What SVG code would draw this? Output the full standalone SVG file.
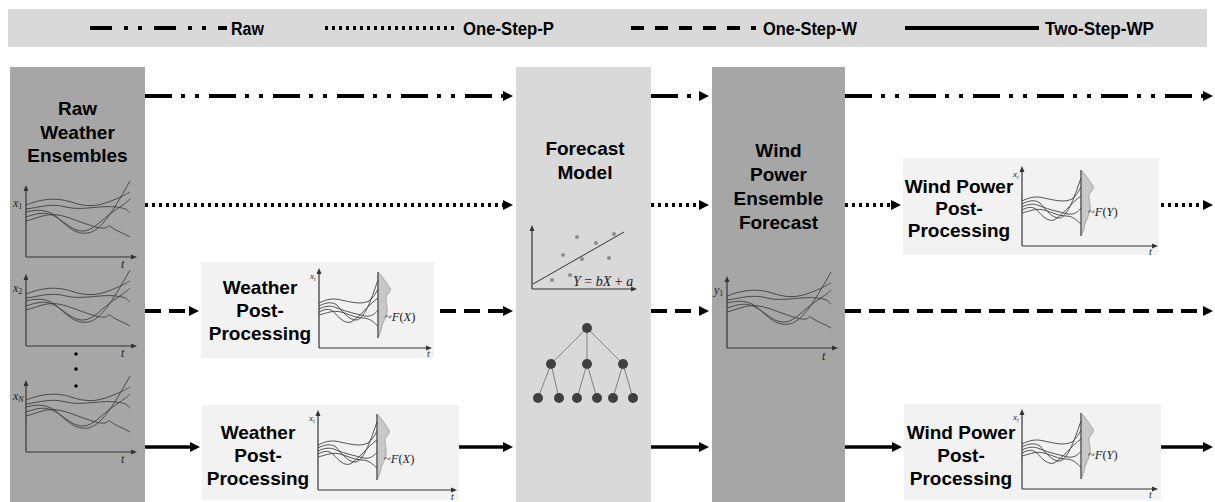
<svg xmlns="http://www.w3.org/2000/svg" width="1215" height="502" viewBox="0 0 1215 502">
<style>
.ttl{font-family:"Liberation Sans",Arial,sans-serif;font-weight:bold;font-size:19px;fill:#000;text-anchor:middle}
.lg{font-family:"Liberation Sans",Arial,sans-serif;font-weight:bold;font-size:18px;fill:#000}
.math{font-family:"Liberation Serif","DejaVu Serif",serif;font-style:italic;fill:#222}
.up{font-style:normal}
.ax{stroke:#333;stroke-width:1.2;fill:none}
.cv{stroke:#404040;stroke-width:0.9;fill:none}
.ln{stroke:#000;stroke-width:4;fill:none}
.raw{stroke-dasharray:27 9 4 10 4 10}
.lraw{stroke-dasharray:22 12 4 10 4 12}
.dot{stroke-dasharray:3 4}
.dsh{stroke-dasharray:16 8}
.ldsh{stroke-dasharray:13 11}
.sol{stroke-width:3.5}
.dark{fill:#a6a6a6}
.mid{fill:#d9d9d9}
.light{fill:#f2f2f2}
.dist{fill:#c8c8c8;stroke:#9a9a9a;stroke-width:0.8}
.vl{stroke:#666;stroke-width:1.5}
.tn{fill:#404040}
.te{stroke:#808080;stroke-width:1}
.rd{fill:#8c8c8c}
</style>
<defs>
<marker id="ah" markerUnits="userSpaceOnUse" markerWidth="10" markerHeight="10" refX="0" refY="5" orient="auto"><path d="M0,0 L10,5 L0,10 Z" fill="#000"/></marker>
<marker id="sa" markerUnits="userSpaceOnUse" markerWidth="6" markerHeight="6" refX="0" refY="3" orient="auto"><path d="M0,0.5 L6,3 L0,5.5 Z" fill="#333"/></marker>
<g id="ens">
<path class="ax" d="M0,72 V6" marker-end="url(#sa)"/>
<path class="ax" d="M0,72 H105" marker-end="url(#sa)"/>
<path class="cv" d="M0,20 C15,14 30,12 45,17 S70,22 85,16 S100,9 104,7"/>
<path class="cv" d="M0,24 C15,22 25,18 40,22 S75,20 90,22 S100,26 104,28"/>
<path class="cv" d="M0,27 C12,24 22,24 32,33 S50,50 62,48 S85,30 104,-4"/>
<path class="cv" d="M0,32 C12,28 20,26 30,32 S48,47 58,46 S75,35 88,26 S100,18 104,14"/>
<path class="cv" d="M0,36 C12,33 20,28 32,30 S55,38 70,42 S80,38 85,42 S98,48 104,52"/>
</g>
<g id="ppc">
<path class="ax" d="M0,80 V6" marker-end="url(#sa)"/>
<path class="dist" d="M59,4 C63,8 67,14 71,20 C73,24 67,26 67,30 C67,36 69,40 68,44 C67,50 64,54 63,58 C62,63 61,66 59,70 Z"/>
<path class="vl" d="M59,4 V70"/>
<path class="cv" d="M0,35 C8,31 14,30 22,32 C32,34 42,37 50,33 C54,30 57,25 59,21"/>
<path class="cv" d="M0,38 C6,35 12,33 18,37 C24,44 30,52 37,52 C46,52 54,26 59,12"/>
<path class="cv" d="M0,41 C6,38 12,37 18,40 C28,44 38,46 46,48 C52,49 56,46 59,42"/>
<path class="cv" d="M0,44 C6,41 10,40 15,44 C20,50 26,56 32,54 C40,50 50,36 59,30"/>
<path class="cv" d="M0,47 C8,45 14,42 22,44 C30,46 36,50 44,50 C52,50 56,56 59,58"/>
</g>
</defs>

<g id="legend">
<rect x="8" y="9" width="1199" height="38" class="mid"/>
<path class="ln lraw" d="M90,28 H227"/>
<text class="lg" x="231" y="34.5" textLength="33" lengthAdjust="spacingAndGlyphs">Raw</text>
<path class="ln dot" d="M325,28 H456"/>
<text class="lg" x="463" y="34.5" textLength="91" lengthAdjust="spacingAndGlyphs">One-Step-P</text>
<path class="ln ldsh" d="M631,28 H756"/>
<text class="lg" x="763" y="34.5" textLength="94" lengthAdjust="spacingAndGlyphs">One-Step-W</text>
<path class="ln" d="M905,28 H1039"/>
<text class="lg" x="1045" y="34.5" textLength="109" lengthAdjust="spacingAndGlyphs">Two-Step-WP</text>
</g>

<g id="raw-weather-ensembles">
<rect x="10" y="67" width="135" height="440" class="dark"/>
<text class="ttl" x="77.5" y="115">Raw</text>
<text class="ttl" x="77.5" y="138.5">Weather</text>
<text class="ttl" x="77.5" y="162">Ensembles</text>
<use href="#ens" transform="translate(26,185)"/>
<text class="math" x="13" y="207" font-size="12">x<tspan font-size="8" dy="2" class="up">1</tspan></text>
<text class="math" x="121" y="268" font-size="12">t</text>
<use href="#ens" transform="translate(26,274)"/>
<text class="math" x="13" y="292" font-size="12">x<tspan font-size="8" dy="2" class="up">2</tspan></text>
<text class="math" x="121" y="357" font-size="12">t</text>
<circle cx="76" cy="354" r="1.8" fill="#000"/>
<circle cx="76" cy="369" r="1.8" fill="#000"/>
<circle cx="76" cy="386" r="1.8" fill="#000"/>
<use href="#ens" transform="translate(26,380)"/>
<text class="math" x="13" y="400" font-size="12">x<tspan font-size="8" dy="2">N</tspan></text>
<text class="math" x="121" y="463" font-size="12">t</text>
</g>

<g id="weather-pp-1">
<rect x="201" y="262" width="233" height="96" class="light"/>
<text class="ttl" x="260" y="294">Weather</text>
<text class="ttl" x="260" y="317">Post-</text>
<text class="ttl" x="260" y="340">Processing</text>
<use href="#ppc" transform="translate(319,268)"/>
<path class="ax" d="M319,348 H426" marker-end="url(#sa)"/>
<text class="math" x="310" y="279" font-size="9">x<tspan font-size="6" dy="1.5">i</tspan></text>
<text class="math" x="427" y="357" font-size="10">t</text>
<text class="math" x="385" y="321" font-size="12.5"><tspan class="up">~</tspan>F<tspan class="up">(</tspan>X<tspan class="up">)</tspan></text>
</g>

<g id="weather-pp-2">
<rect x="202" y="405" width="257" height="95" class="light"/>
<text class="ttl" x="258" y="439">Weather</text>
<text class="ttl" x="258" y="462">Post-</text>
<text class="ttl" x="258" y="485">Processing</text>
<use href="#ppc" transform="translate(318,410)"/>
<path class="ax" d="M318,490 H451" marker-end="url(#sa)"/>
<text class="math" x="309" y="421" font-size="9">x<tspan font-size="6" dy="1.5">i</tspan></text>
<text class="math" x="451" y="500" font-size="10">t</text>
<text class="math" x="384" y="463" font-size="12.5"><tspan class="up">~</tspan>F<tspan class="up">(</tspan>X<tspan class="up">)</tspan></text>
</g>

<g id="forecast-model">
<rect x="516" y="67" width="135" height="440" class="mid"/>
<text class="ttl" x="585" y="155">Forecast</text>
<text class="ttl" x="585" y="179">Model</text>
<path class="ax" d="M532,289 V231" marker-end="url(#sa)"/>
<path class="ax" d="M532,289 H631" marker-end="url(#sa)"/>
<path d="M533,284 L624,232" stroke="#333" stroke-width="1"/>
<circle class="rd" cx="577" cy="237" r="2"/>
<circle class="rd" cx="614" cy="234" r="2"/>
<circle class="rd" cx="596" cy="243" r="2"/>
<circle class="rd" cx="563" cy="255" r="2"/>
<circle class="rd" cx="582" cy="259" r="2"/>
<circle class="rd" cx="609" cy="258" r="2"/>
<circle class="rd" cx="552" cy="280" r="2"/>
<circle class="rd" cx="570" cy="275" r="2"/>
<text class="math" x="573" y="286" font-size="14">Y <tspan class="up">=</tspan> bX <tspan class="up">+</tspan> a</text>
<path class="te" d="M587,328 L551,364 M587,328 L587,364 M587,328 L623,364 M551,364 L538,398 M551,364 L559,398 M587,364 L577,398 M587,364 L597,398 M623,364 L613,398 M623,364 L633,398"/>
<circle class="tn" cx="587" cy="328" r="5"/>
<circle class="tn" cx="551" cy="364" r="5"/>
<circle class="tn" cx="587" cy="364" r="5"/>
<circle class="tn" cx="623" cy="364" r="5"/>
<circle class="tn" cx="538" cy="398" r="5"/>
<circle class="tn" cx="559" cy="398" r="5"/>
<circle class="tn" cx="577" cy="398" r="5"/>
<circle class="tn" cx="597" cy="398" r="5"/>
<circle class="tn" cx="613" cy="398" r="5"/>
<circle class="tn" cx="633" cy="398" r="5"/>
</g>

<g id="wind-power-ensemble-forecast">
<rect x="712" y="67" width="133" height="440" class="dark"/>
<text class="ttl" x="778.5" y="157">Wind</text>
<text class="ttl" x="778.5" y="181">Power</text>
<text class="ttl" x="778.5" y="205">Ensemble</text>
<text class="ttl" x="778.5" y="229">Forecast</text>
<use href="#ens" transform="translate(727,276)"/>
<text class="math" x="714" y="294" font-size="12">y<tspan font-size="8" dy="2" class="up">1</tspan></text>
<text class="math" x="822" y="360" font-size="12">t</text>
</g>

<g id="wind-pp-1">
<rect x="903" y="158" width="256" height="97" class="light"/>
<text class="ttl" x="959" y="193">Wind Power</text>
<text class="ttl" x="959" y="215">Post-</text>
<text class="ttl" x="959" y="237">Processing</text>
<use href="#ppc" transform="translate(1022,166)"/>
<path class="ax" d="M1022,246 H1152" marker-end="url(#sa)"/>
<text class="math" x="1013" y="177" font-size="9">x<tspan font-size="6" dy="1.5">i</tspan></text>
<text class="math" x="1149" y="255" font-size="10">t</text>
<text class="math" x="1088" y="216" font-size="12.5"><tspan class="up">~</tspan>F<tspan class="up">(</tspan>Y<tspan class="up">)</tspan></text>
</g>

<g id="wind-pp-2">
<rect x="904" y="404" width="257" height="96" class="light"/>
<text class="ttl" x="961" y="439">Wind Power</text>
<text class="ttl" x="961" y="462">Post-</text>
<text class="ttl" x="961" y="485">Processing</text>
<use href="#ppc" transform="translate(1022,409)"/>
<path class="ax" d="M1022,489 H1152" marker-end="url(#sa)"/>
<text class="math" x="1013" y="420" font-size="9">x<tspan font-size="6" dy="1.5">i</tspan></text>
<text class="math" x="1149" y="498" font-size="10">t</text>
<text class="math" x="1088" y="459" font-size="12.5"><tspan class="up">~</tspan>F<tspan class="up">(</tspan>Y<tspan class="up">)</tspan></text>
</g>

<g id="connectors">
<path class="ln raw" d="M145,96 H503" marker-end="url(#ah)"/>
<path class="ln raw" d="M651,96 H699" marker-end="url(#ah)"/>
<path class="ln raw" d="M845,96 H1203" marker-end="url(#ah)"/>
<path class="ln dot" d="M145,205 H503" marker-end="url(#ah)"/>
<path class="ln dot" d="M651,205 H699" marker-end="url(#ah)"/>
<path class="ln dot" d="M845,205 H891" marker-end="url(#ah)"/>
<path class="ln dot" d="M1161,205 H1203" marker-end="url(#ah)"/>
<path class="ln dsh" d="M145,311 H189" marker-end="url(#ah)"/>
<path class="ln dsh" d="M440,311 H503" marker-end="url(#ah)"/>
<path class="ln dsh" d="M651,311 H699" marker-end="url(#ah)"/>
<path class="ln dsh" d="M845,311 H1203" marker-end="url(#ah)"/>
<path class="ln sol" d="M145,447 H190" marker-end="url(#ah)"/>
<path class="ln sol" d="M459,447 H503" marker-end="url(#ah)"/>
<path class="ln sol" d="M651,447 H699" marker-end="url(#ah)"/>
<path class="ln sol" d="M845,447 H892" marker-end="url(#ah)"/>
<path class="ln sol" d="M1161,447 H1203" marker-end="url(#ah)"/>
</g>
</svg>
